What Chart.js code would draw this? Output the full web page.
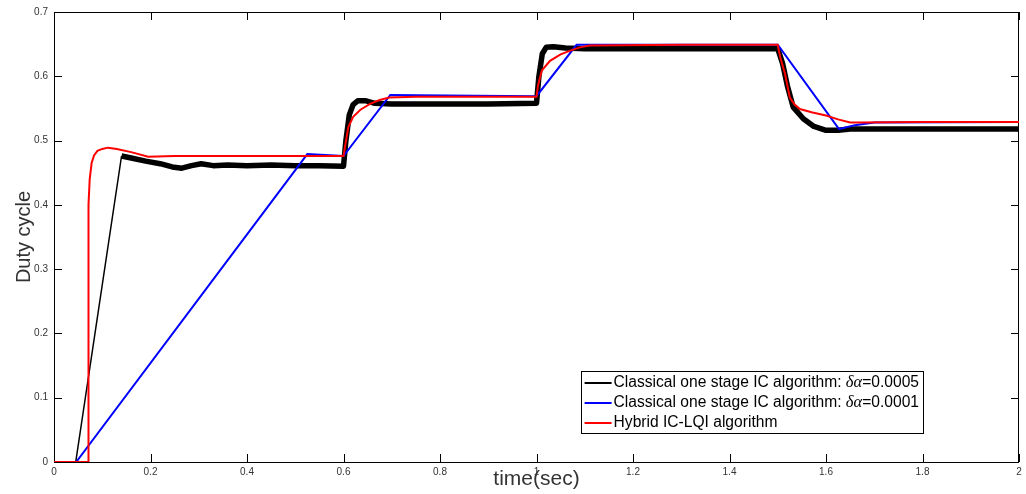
<!DOCTYPE html>
<html>
<head>
<meta charset="utf-8">
<script src="https://cdn.jsdelivr.net/npm/chart.js"></script>
<style>
  html, body { margin: 0; padding: 0; background: #fff; }
</style>
</head>
<body>
<canvas id="dutyChart" width="1026" height="494"></canvas>
<script>
// tick labels
const xTicks = [0, 0.2, 0.4, 0.6, 0.8, 1, 1.2, 1.4, 1.6, 1.8, 2];
const yTicks = [0, 0.1, 0.2, 0.3, 0.4, 0.5, 0.6, 0.7];

// classical IC, dα = 0.0005 (black)
const classicFastT = [0, 0.045, 0.14, 0.16, 0.19, 0.22, 0.245, 0.265, 0.285, 0.305, 0.33, 0.36, 0.4, 0.45, 0.5, 0.55, 0.6,
  0.605, 0.612, 0.62, 0.63, 0.645, 0.665, 0.7, 0.8, 0.9, 1.0,
  1.005, 1.012, 1.02, 1.035, 1.06, 1.1, 1.2, 1.3, 1.4, 1.5,
  1.51, 1.52, 1.532, 1.553, 1.575, 1.6, 1.625, 1.65, 1.7, 1.8, 1.9, 2.0];
const classicFastDuty = [0, 0, 0.476, 0.473, 0.468, 0.464, 0.459, 0.457, 0.461, 0.464, 0.461, 0.462, 0.461, 0.462, 0.461, 0.461, 0.46,
  0.5, 0.54, 0.556, 0.562, 0.562, 0.558, 0.557, 0.557, 0.557, 0.558,
  0.6, 0.635, 0.645, 0.646, 0.644, 0.643, 0.643, 0.643, 0.643, 0.643,
  0.62, 0.585, 0.552, 0.534, 0.522, 0.516, 0.516, 0.518, 0.518, 0.518, 0.518, 0.518];

// classical IC, dα = 0.0001 (blue)
const classicSlowT = [0, 0.046, 0.525, 0.6, 0.697, 1.0, 1.083, 1.5, 1.627, 1.66, 1.7, 2.0];
const classicSlowDuty = [0, 0, 0.479, 0.476, 0.571, 0.569, 0.649, 0.649, 0.518, 0.524, 0.528, 0.529];

// hybrid IC-LQI (red)
const hybridT = [0, 0.071, 0.0715, 0.074, 0.078, 0.083, 0.09, 0.1, 0.112, 0.13, 0.16, 0.195, 0.25, 0.4, 0.6,
  0.603, 0.61, 0.62, 0.635, 0.655, 0.675, 0.695, 0.75, 1.0,
  1.003, 1.011, 1.028, 1.05, 1.07, 1.09, 1.11, 1.3, 1.5,
  1.505, 1.515, 1.525, 1.535, 1.546, 1.57, 1.6, 1.625, 1.65, 1.67, 1.8, 2.0];
const hybridDuty = [0, 0, 0.4, 0.44, 0.465, 0.477, 0.484, 0.487, 0.489, 0.487, 0.482, 0.475, 0.476, 0.476, 0.476,
  0.49, 0.521, 0.537, 0.548, 0.557, 0.563, 0.567, 0.568, 0.568,
  0.585, 0.609, 0.624, 0.634, 0.64, 0.645, 0.648, 0.649, 0.649,
  0.63, 0.604, 0.567, 0.556, 0.549, 0.544, 0.539, 0.533, 0.528, 0.528, 0.529, 0.529];

const pairs = (t, v) => t.map((x, i) => ({ x: x, y: v[i] }));
const sans = "'Liberation Sans', Arial, sans-serif";

// frame + inward ticks on all four sides, like the original figure
const framePlugin = {
    id: 'frame',
    beforeDatasetsDraw(chart) {
        const { ctx, chartArea: a, scales } = chart;
        const len = 8;
        ctx.save();
        ctx.strokeStyle = '#000';
        ctx.lineWidth = 1;
        ctx.strokeRect(a.left + 0.5, a.top + 0.5, a.right - a.left - 1, a.bottom - a.top);
        ctx.beginPath();
        xTicks.forEach(v => {
            const px = Math.round(scales.x.getPixelForValue(v)) + 0.5;
            ctx.moveTo(px, a.bottom); ctx.lineTo(px, a.bottom - len);
            ctx.moveTo(px, a.top); ctx.lineTo(px, a.top + len);
        });
        yTicks.forEach(v => {
            const py = Math.round(scales.y.getPixelForValue(v)) + 0.5;
            ctx.moveTo(a.left, py); ctx.lineTo(a.left + len, py);
            ctx.moveTo(a.right, py); ctx.lineTo(a.right - len, py);
        });
        ctx.stroke();
        ctx.restore();
    }
};

// boxed legend inside the plot, "δα" set in serif italic
const boxLegend = {
    id: 'boxLegend',
    afterDatasetsDraw(chart) {
        const { ctx, chartArea: a } = chart;
        const rowH = 20, sample = 27, pad = 4;
        const textFont = '15.6px ' + sans;
        const greekFont = 'italic 16.5px "Liberation Serif", "DejaVu Serif", serif';
        ctx.save();
        const widthOf = label => {
            let w = 0;
            label.split('δα').forEach((part, i) => {
                if (i > 0) { ctx.font = greekFont; w += ctx.measureText('δα').width; }
                ctx.font = textFont; w += ctx.measureText(part).width;
            });
            return w;
        };
        const items = chart.data.datasets;
        const textW = Math.max(...items.map(d => widthOf(d.label)));
        const boxW = pad + sample + 2 + textW + pad;
        const boxH = items.length * rowH + 2;
        const right = a.right - 96, bottom = a.bottom - 29;
        const left = right - boxW, top = bottom - boxH;
        ctx.fillStyle = '#fff';
        ctx.fillRect(left, top, boxW, boxH);
        ctx.strokeStyle = '#000';
        ctx.lineWidth = 1;
        ctx.strokeRect(Math.round(left) + 0.5, Math.round(top) + 0.5, Math.round(boxW), Math.round(boxH));
        ctx.textBaseline = 'middle';
        items.forEach((d, i) => {
            const cy = top + 1 + rowH * i + rowH / 2 + 1;
            ctx.strokeStyle = d.borderColor;
            ctx.lineWidth = 2;
            ctx.beginPath();
            ctx.moveTo(left + pad, cy); ctx.lineTo(left + pad + sample, cy);
            ctx.stroke();
            let x = left + pad + sample + 2;
            ctx.fillStyle = '#000';
            d.label.split('δα').forEach((part, j) => {
                if (j > 0) {
                    ctx.font = greekFont;
                    ctx.fillText('δα', x, cy);
                    x += ctx.measureText('δα').width;
                }
                ctx.font = textFont;
                ctx.fillText(part, x, cy);
                x += ctx.measureText(part).width;
            });
        });
        ctx.restore();
    }
};

new Chart(document.getElementById('dutyChart'), {
    type: 'line',
    data: {
        datasets: [
            {
                label: 'Classical one stage IC algorithm: δα=0.0005',
                data: pairs(classicFastT, classicFastDuty),
                borderColor: '#000000',
                borderWidth: 5.5,
                borderJoinStyle: 'round',
                order: 2,
                segment: {
                    borderWidth: ctx => (ctx.p1.parsed.x <= 0.14 ? 1.5 : 5.5)
                }
            },
            {
                label: 'Classical one stage IC algorithm: δα=0.0001',
                data: pairs(classicSlowT, classicSlowDuty),
                borderColor: '#0000ff',
                borderWidth: 2,
                order: 1
            },
            {
                label: 'Hybrid IC-LQI algorithm',
                data: pairs(hybridT, hybridDuty),
                borderColor: '#ff0000',
                borderWidth: 2,
                order: 0
            }
        ]
    },
    options: {
        responsive: false,
        devicePixelRatio: 1,
        animation: false,
        elements: {
            point: { radius: 0, hoverRadius: 0 },
            line: { tension: 0, fill: false }
        },
        layout: { padding: { top: 11, right: 7, left: 0, bottom: 0 } },
        scales: {
            x: {
                type: 'linear',
                min: 0,
                max: 2,
                afterBuildTicks: scale => { scale.ticks = xTicks.map(v => ({ value: v })); },
                afterFit: scale => { scale.height = 32; },
                grid: { display: false, drawTicks: false },
                border: { display: false },
                ticks: {
                    padding: 4,
                    maxRotation: 0,
                    color: '#333',
                    font: { family: sans, size: 10 },
                    callback: v => String(v)
                },
                title: {
                    display: true,
                    text: 'time(sec)',
                    color: '#333',
                    font: { family: sans, size: 21 },
                    padding: { top: 0, bottom: 2 }
                }
            },
            y: {
                type: 'linear',
                min: 0,
                max: 0.7,
                afterBuildTicks: scale => { scale.ticks = yTicks.map(v => ({ value: v })); },
                afterFit: scale => { scale.width = 54; },
                grid: { display: false, drawTicks: false },
                border: { display: false },
                ticks: {
                    padding: 6,
                    color: '#333',
                    font: { family: sans, size: 10 },
                    callback: v => String(v)
                },
                title: {
                    display: true,
                    text: 'Duty cycle',
                    color: '#333',
                    font: { family: sans, size: 20 },
                    padding: { top: 12, bottom: 0 }
                }
            }
        },
        plugins: {
            legend: { display: false },
            tooltip: { enabled: false }
        }
    },
    plugins: [framePlugin, boxLegend]
});
</script>
</body>
</html>
